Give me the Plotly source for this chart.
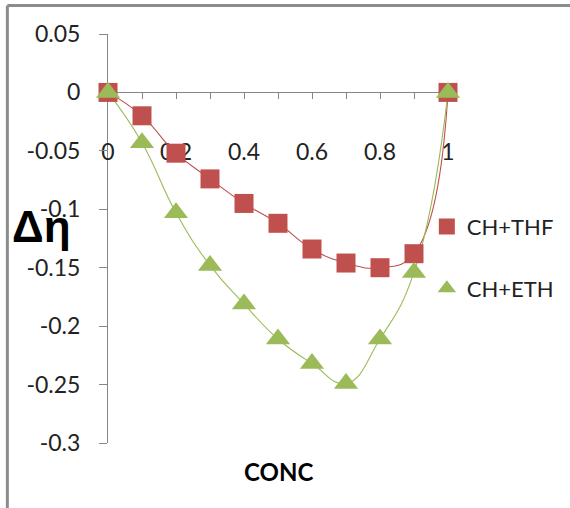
import plotly.graph_objects as go

# Mole fraction (concentration) and excess viscosity for the two mixtures
conc = [0.0, 0.1, 0.2, 0.3, 0.4, 0.5, 0.6, 0.7, 0.8, 0.9, 1.0]
d_eta_thf = [0.0, -0.020, -0.052, -0.074, -0.095, -0.112, -0.134, -0.146, -0.150, -0.138, 0.0]
d_eta_eth = [0.0, -0.043, -0.103, -0.148, -0.181, -0.211, -0.232, -0.249, -0.211, -0.154, 0.0]

y_ticks = [0.05, 0, -0.05, -0.1, -0.15, -0.2, -0.25, -0.3]
y_tick_text = ["0.05", "0", "-0.05", "-0.1", "-0.15", "-0.2", "-0.25", "-0.3"]
x_ticks = [0, 0.2, 0.4, 0.6, 0.8, 1]
x_tick_text = ["0", "0.2", "0.4", "0.6", "0.8", "1"]

RED = "#C0504D"
GREEN = "#9BBB59"
AXIS = "#868686"
FONT = "Lato"

Y_MIN, Y_MAX = -0.3, 0.05

fig = go.Figure()

# smoothed connecting curves
fig.add_trace(go.Scatter(x=conc, y=d_eta_thf, mode="lines", showlegend=False,
                         line=dict(color=RED, width=1.1, shape="spline", smoothing=1.3),
                         hoverinfo="skip", cliponaxis=False))
fig.add_trace(go.Scatter(x=conc, y=d_eta_eth, mode="lines", showlegend=False,
                         line=dict(color=GREEN, width=1.1, shape="spline", smoothing=1.3),
                         hoverinfo="skip", cliponaxis=False))

# data markers
fig.add_trace(go.Scatter(x=conc, y=d_eta_thf, mode="markers", name="CH+THF",
                         legendgroup="thf",
                         marker=dict(symbol="square", size=19, color=RED),
                         cliponaxis=False))
fig.add_trace(go.Scatter(x=conc, y=d_eta_eth, mode="markers", name="CH+ETH",
                         legendgroup="eth",
                         marker=dict(symbol="triangle-up", size=21, color=GREEN),
                         cliponaxis=False))

zero_pos = (0 - Y_MIN) / (Y_MAX - Y_MIN)

fig.update_layout(
    width=570, height=508, autosize=False,
    margin=dict(l=108, r=121, t=34, b=65),
    paper_bgcolor="white", plot_bgcolor="white",
    font=dict(family=FONT, color="#222222"),
    xaxis=dict(
        range=[0, 1], anchor="free", position=zero_pos,
        tickmode="array", tickvals=x_ticks, ticktext=x_tick_text,
        ticks="outside", ticklen=6, tickcolor=AXIS, tickwidth=1,
        minor=dict(dtick=0.1, ticks="outside", ticklen=6, tickcolor=AXIS, tickwidth=1, showgrid=False),
        ticklabelstandoff=33,
        tickfont=dict(family=FONT, size=23, color="#222222"),
        showline=True, linecolor=AXIS, linewidth=1,
        showgrid=False, zeroline=False, layer="below traces",
    ),
    yaxis=dict(
        range=[Y_MIN, Y_MAX],
        tickmode="array", tickvals=y_ticks, ticktext=y_tick_text,
        ticks="outside", ticklen=8, tickcolor=AXIS, tickwidth=1,
        ticklabelstandoff=14,
        tickfont=dict(family=FONT, size=23, color="#222222"),
        showline=True, linecolor=AXIS, linewidth=1,
        showgrid=False, zeroline=False, layer="below traces",
    ),
    legend=dict(
        x=0.935, y=0.58, xanchor="left", yanchor="top",
        font=dict(family=FONT, size=22, color="#222222"),
        bgcolor="rgba(0,0,0,0)", tracegroupgap=30, traceorder="grouped",
        itemsizing="trace",
    ),
    annotations=[
        dict(text="<b>Δη</b>", xref="paper", yref="paper", x=-0.195, y=0.53,
             xanchor="center", yanchor="middle", showarrow=False,
             font=dict(family="Liberation Sans", size=44, color="#000000")),
        dict(text="<b>CONC</b>", xref="paper", yref="paper", x=0.5, y=-0.07,
             xanchor="center", yanchor="middle", showarrow=False,
             font=dict(family=FONT, size=24, color="#000000")),
    ],
    shapes=[
        # chart frame: top and left edges
        dict(type="line", xref="paper", yref="paper", x0=-0.296, x1=1.4, y0=1.0697, y1=1.0697,
             line=dict(color="#8C8C8C", width=3), layer="above"),
        dict(type="line", xref="paper", yref="paper", x0=-0.296, x1=-0.296, y0=1.0697, y1=-0.2,
             line=dict(color="#8C8C8C", width=3), layer="above"),
    ],
)

fig.write_html("out.html")
